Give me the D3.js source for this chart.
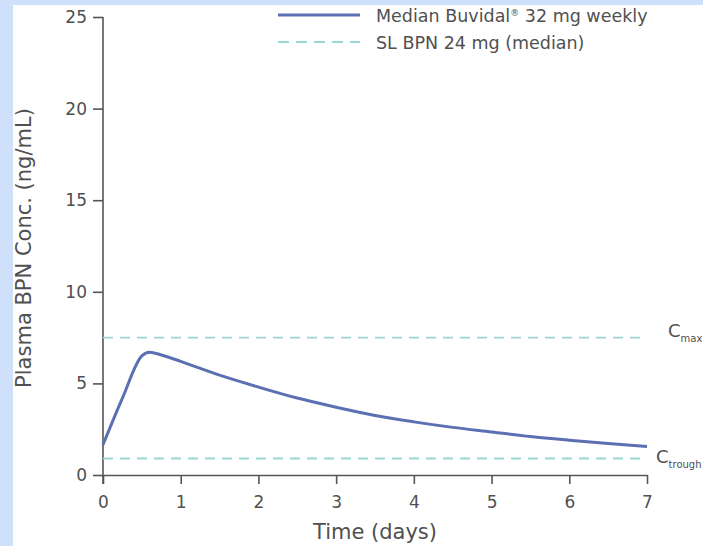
<!DOCTYPE html>
<html>
<head>
<meta charset="utf-8">
<script src="https://cdn.jsdelivr.net/npm/d3@7"></script>
<style>
  body { margin: 0; background: #cfe0fb; }
  svg { display: block; }
  text { font-family: "DejaVu Sans", sans-serif; }
</style>
</head>
<body>
<div id="chart"></div>
<script>
// Median Buvidal 32 mg weekly profile (day, ng/mL)
var days = [0, 0.25, 0.5, 0.6, 0.75, 1, 1.5, 2, 2.5, 3, 3.5, 4, 4.5, 5, 5.5, 6, 6.5, 7];
var conc = [1.65, 4.2, 6.5, 6.7, 6.55, 6.2, 5.45, 4.8, 4.2, 3.7, 3.25, 2.9, 2.6, 2.35, 2.1, 1.9, 1.72, 1.56];

// SL BPN 24 mg reference levels
var refNames = ["max", "trough"];
var refValues = [7.5, 0.9];

var xTicks = [0, 1, 2, 3, 4, 5, 6, 7];
var yTicks = [0, 5, 10, 15, 20, 25];
var legendLabels = ["Median Buvidal", "SL BPN 24 mg (median)"];

var W = 703, H = 546;
var margin = { top: 17, right: 56, bottom: 71, left: 103 };
var width = W - margin.left - margin.right,
    height = H - margin.top - margin.bottom;

var lineColor = "#5b70b3", dashColor = "#9bd6d2", axisColor = "#555", textColor = "#505050";

var svg = d3.select("#chart").append("svg")
    .attr("width", W)
    .attr("height", H);

// white panel on the blue page
svg.append("rect")
    .attr("x", 13).attr("y", 5)
    .attr("width", W - 13).attr("height", H - 5)
    .attr("fill", "white");

var g = svg.append("g")
    .attr("transform", "translate(" + margin.left + "," + margin.top + ")");

var x = d3.scaleLinear().domain([0, 7]).range([0, width]);
var y = d3.scaleLinear().domain([0, 25]).range([height, 0]);

// axes
var xAxis = g.append("g")
    .attr("transform", "translate(0," + height + ")")
    .call(d3.axisBottom(x).tickValues(xTicks).tickFormat(d3.format("d")).tickSize(9).tickSizeOuter(0).tickPadding(12));
var yAxis = g.append("g")
    .call(d3.axisLeft(y).tickValues(yTicks).tickFormat(d3.format("d")).tickSize(10).tickSizeOuter(0).tickPadding(6));

[xAxis, yAxis].forEach(function (a) {
    a.attr("font-size", null).attr("font-family", null);
    a.selectAll("path, line").attr("stroke", axisColor).attr("stroke-width", 1.6);
    a.selectAll("text").attr("fill", textColor).attr("font-size", 17);
});
// y axis runs a little below the x axis
yAxis.select("path").attr("d", "M0," + y(25) + "V" + (height + 9));

// reference dashed lines
g.selectAll(".ref")
    .data(refValues)
    .enter().append("line")
    .attr("class", "ref")
    .attr("x1", 0).attr("x2", width)
    .attr("y1", function (d) { return y(d); })
    .attr("y2", function (d) { return y(d); })
    .attr("stroke", dashColor)
    .attr("stroke-width", 1.8)
    .attr("stroke-dasharray", "10,7");

// C labels
var cl = g.selectAll(".clab")
    .data(refNames)
    .enter().append("text")
    .attr("class", "clab")
    .attr("x", function (d, i) { return i === 0 ? width + 21 : width + 9; })
    .attr("y", function (d, i) { return y(refValues[i]) + (i === 0 ? -1 : 4); })
    .attr("fill", textColor)
    .attr("font-size", 18);
cl.append("tspan").text("C");
cl.append("tspan").attr("dy", 5).attr("font-size", 10).text(function (d) { return d; });

// curve
var pts = days.map(function (d, i) { return [d, conc[i]]; });
g.append("path")
    .datum(pts)
    .attr("fill", "none")
    .attr("stroke", lineColor)
    .attr("stroke-width", 3)
    .attr("d", d3.line()
        .x(function (d) { return x(d[0]); })
        .y(function (d) { return y(d[1]); })
        .curve(d3.curveMonotoneX));

// axis titles
svg.append("text")
    .attr("x", margin.left + width / 2)
    .attr("y", 539)
    .attr("text-anchor", "middle")
    .attr("fill", textColor)
    .attr("font-size", 21)
    .text("Time (days)");
svg.append("text")
    .attr("transform", "translate(31,248) rotate(-90)")
    .attr("text-anchor", "middle")
    .attr("fill", textColor)
    .attr("font-size", 21)
    .text("Plasma BPN Conc. (ng/mL)");

// legend
var legend = svg.append("g").attr("transform", "translate(278,15)");
legendLabels.forEach(function (lab, i) {
    legend.append("line")
        .attr("x1", 0).attr("x2", 82)
        .attr("y1", i * 27).attr("y2", i * 27)
        .attr("stroke", i === 0 ? lineColor : dashColor)
        .attr("stroke-width", i === 0 ? 3 : 1.8)
        .attr("stroke-dasharray", i === 0 ? null : "11,7");
    var t = legend.append("text")
        .attr("x", 98).attr("y", i * 27 + 7)
        .attr("fill", textColor)
        .attr("font-size", 17.5)
        .text(lab);
    if (i === 0) {
        t.append("tspan").attr("dy", -6).attr("font-size", 9).text("\u00ae");
        t.append("tspan").attr("dy", 6).text(" 32 mg weekly");
    }
});
</script>
</body>
</html>
